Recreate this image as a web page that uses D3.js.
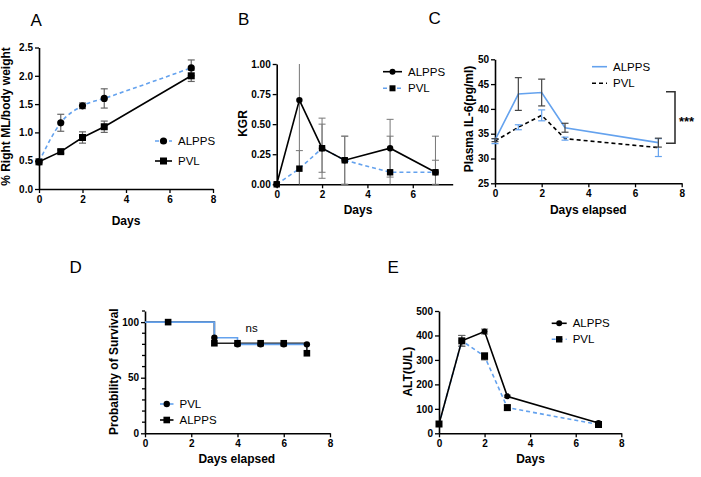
<!DOCTYPE html>
<html><head><meta charset="utf-8">
<script src="https://cdn.jsdelivr.net/npm/d3@7"></script>
<style>body{margin:0;background:#fff}svg{display:block}</style>
</head><body>
<svg id="c" width="701" height="477"></svg>
<script>
// ---------- DATA ----------
const seriesNames = ["ALPPS", "PVL"];
// A
const daysA = [0, 1, 2, 3, 7];
const alppsA = [0.48, 1.17, 1.47, 1.60, 2.14];
const alppsAErr = [0, 0.15, 0.05, 0.17, 0.14];
const pvlA = [0.48, 0.66, 0.91, 1.10, 2.00];
const pvlAErr = [0, 0.03, 0.10, 0.10, 0.10];
const yTicksA = [0, 0.5, 1.0, 1.5, 2.0, 2.5];
// B
const daysB = [0, 1, 2, 3, 5, 7];
const alppsB = [0, 0.70, 0.30, 0.20, 0.30, 0.10];
const alppsBErr = [0, 0.75, 0.25, 0.20, 0.24, 0.30];
const pvlB = [0, 0.13, 0.30, 0.20, 0.10, 0.10];
const pvlBErr = [0, 0.15, 0.20, 0.20, 0.30, 0.10];
const yTicksB = [0, 0.25, 0.5, 0.75, 1.0];
// C
const daysC = [0, 1, 2, 3, 7];
const alppsC = [33.7, 43.0, 43.3, 36.2, 33.2];
const alppsCErr = [0.3, 3.3, 2.7, 0.9, 0.9];
const pvlC = [33.5, 36.3, 38.7, 34.0, 32.2];
const pvlCErr = [0.5, 0.5, 1.1, 0.3, 1.8];
const yTicksC = [25, 30, 35, 40, 45, 50];
// D (Kaplan-Meier)
const kmPvlT = [0, 3, 4, 7];
const kmPvlS = [100, 86, 80, 80];
const kmPvlMarkT = [3, 4, 5, 6, 7];
const kmPvlMarkS = [86, 80, 80, 80, 80];
const kmAlppsT = [0, 3, 7, 7];
const kmAlppsS = [100, 81, 81, 72];
const kmAlppsMarkT = [1, 3, 4, 5, 6, 7];
const kmAlppsMarkS = [100, 81, 81, 81, 81, 72];
const yTicksD = [0, 50, 100];
// E
const daysE = [0, 1, 2, 3, 7];
const alppsE = [38, 378, 416, 151, 42];
const alppsEErr = [0, 22, 10, 5, 5];
const pvlE = [38, 378, 315, 105, 36];
const pvlEErr = [0, 22, 15, 10, 5];
const yTicksE = [0, 100, 200, 300, 400, 500];
const xTicks8 = [0, 2, 4, 6, 8];

// ---------- DRAWING ----------
const blue = "#64a2ee";
const svg = d3.select("#c");
const FONT = "Liberation Sans, Arial, sans-serif";

function axes(xs, ys, xt, yt, fmt, minorY) {
  const g = svg.append("g");
  const ax = g.append("g").attr("transform", `translate(0,${ys.range()[0]})`)
    .call(d3.axisBottom(xs).tickValues(xt).tickSize(4).tickSizeOuter(0).tickPadding(3).tickFormat(d3.format("d")));
  const ay = g.append("g").attr("transform", `translate(${xs.range()[0]},0)`)
    .call(d3.axisLeft(ys).tickValues(yt).tickSize(4).tickSizeOuter(0).tickPadding(2).tickFormat(fmt));
  if (minorY) {
    ay.selectAll("line.minor").data(minorY).enter().append("line")
      .attr("x1", 0).attr("x2", -3).attr("y1", d => ys(d)).attr("y2", d => ys(d))
      .attr("stroke", "#000").attr("stroke-width", 1.3);
  }
  [ax, ay].forEach(a => {
    a.select(".domain").attr("stroke", "#000").attr("stroke-width", 1.6);
    a.selectAll(".tick line").attr("stroke", "#000").attr("stroke-width", 1.3);
    a.selectAll(".tick text").attr("fill", "#000").style("font-family", FONT)
      .style("font-size", "10px").style("font-weight", "bold");
  });
}

function title(x, y, t) {
  svg.append("text").attr("x", x).attr("y", y).text(t)
    .style("font-family", FONT).style("font-size", "17px").attr("fill", "#000");
}
function xlabel(x, y, t) {
  svg.append("text").attr("x", x).attr("y", y).attr("text-anchor", "middle").text(t)
    .style("font-family", FONT).style("font-size", "12px").style("font-weight", "bold");
}
function ylabel(x, y, t) {
  svg.append("text").attr("transform", `translate(${x},${y}) rotate(-90)`).attr("text-anchor", "middle").text(t)
    .style("font-family", FONT).style("font-size", "12px").style("font-weight", "bold");
}
function marker(g, type, x, y, s, fill) {
  if (type === "circle") g.append("circle").attr("cx", x).attr("cy", y).attr("r", s).attr("fill", fill || "#000");
  else if (type === "square") g.append("rect").attr("x", x - s).attr("y", y - s).attr("width", 2 * s).attr("height", 2 * s).attr("fill", fill || "#000");
}
function errbars(xs, ys, xv, yv, ev, color, w) {
  const [d0, d1] = ys.domain();
  const g = svg.append("g").attr("stroke", color).attr("stroke-width", w || 1.1);
  xv.forEach((xd, i) => {
    const e = ev[i]; if (!e) return;
    const hiV = yv[i] + e, loV = yv[i] - e;
    const hi = Math.min(hiV, d1), lo = Math.max(loV, d0);
    const x = xs(xd);
    g.append("line").attr("x1", x).attr("x2", x).attr("y1", ys(lo)).attr("y2", ys(hi));
    if (hiV <= d1) g.append("line").attr("x1", x - 3.5).attr("x2", x + 3.5).attr("y1", ys(hi)).attr("y2", ys(hi));
    if (loV >= d0) g.append("line").attr("x1", x - 3.5).attr("x2", x + 3.5).attr("y1", ys(lo)).attr("y2", ys(lo));
  });
}
function series(xs, ys, xv, yv, opt) {
  const line = d3.line().x((d, i) => xs(xv[i])).y(d => ys(d)).curve(opt.curve || d3.curveLinear);
  svg.append("path").attr("d", line(yv)).attr("fill", "none").attr("stroke", opt.color)
    .attr("stroke-width", opt.width || 1.6).attr("stroke-dasharray", opt.dash || null);
  if (opt.marker) {
    const g = svg.append("g");
    xv.forEach((xd, i) => marker(g, opt.marker, xs(xd), ys(yv[i]), opt.size, "#000"));
  }
}
function legend(x0, len, y, label, opt) {
  svg.append("line").attr("x1", x0).attr("x2", x0 + len).attr("y1", y).attr("y2", y)
    .attr("stroke", opt.color).attr("stroke-width", 1.6).attr("stroke-dasharray", opt.dash || null);
  if (opt.marker) marker(svg, opt.marker, x0 + len / 2, y, opt.size, "#000");
  svg.append("text").attr("x", x0 + len + 6).attr("y", y).attr("dy", "0.36em").text(label)
    .style("font-family", FONT).style("font-size", "11.5px");
}

// ---- Panel A ----
{
  const xs = d3.scaleLinear().domain([0, 8]).range([39, 213]);
  const ys = d3.scaleLinear().domain([0, 2.5]).range([189, 47.5]);
  axes(xs, ys, xTicks8, yTicksA, d3.format(".1f"));
  errbars(xs, ys, daysA, alppsA, alppsAErr, "#666", 1.2);
  errbars(xs, ys, daysA, pvlA, pvlAErr, "#666", 1.2);
  series(xs, ys, daysA, pvlA, {color: "#000", marker: "square", size: 3.5});
  series(xs, ys, daysA, alppsA, {color: blue, dash: "4,3", marker: "circle", size: 3.6, curve: d3.curveMonotoneX});
  legend(155, 17, 141, seriesNames[0], {color: blue, dash: "4,3", marker: "circle", size: 3.6});
  legend(155, 17, 161, seriesNames[1], {color: "#000", marker: "square", size: 3.5});
  title(30.5, 26, "A");
  xlabel(126, 225, "Days");
  ylabel(9.5, 116.5, "% Right ML/body weight");
}
// ---- Panel B ----
{
  const xs = d3.scaleLinear().domain([0, 7.76]).range([276.7, 452.7]);
  const ys = d3.scaleLinear().domain([0, 1]).range([184.3, 64]);
  axes(xs, ys, [0, 2, 4, 6], yTicksB, d3.format(".2f"));
  errbars(xs, ys, daysB, alppsB, alppsBErr, "#777", 1);
  errbars(xs, ys, daysB, pvlB, pvlBErr, "#777", 1);
  series(xs, ys, daysB, pvlB, {color: blue, dash: "4,3", marker: "square", size: 3.2});
  series(xs, ys, daysB, alppsB, {color: "#000", marker: "circle", size: 3.2});
  legend(383, 19, 71.7, seriesNames[0], {color: "#000", marker: "circle", size: 3});
  legend(383, 19, 88.3, seriesNames[1], {color: blue, dash: "4,3", marker: "square", size: 3});
  title(238, 25, "B");
  xlabel(358, 214, "Days");
  ylabel(247, 123.5, "KGR");
}
// ---- Panel C ----
{
  const xs = d3.scaleLinear().domain([0, 8]).range([495, 681.7]);
  const ys = d3.scaleLinear().domain([25, 50]).range([183.3, 59.3]);
  axes(xs, ys, xTicks8, yTicksC, d3.format("d"));
  series(xs, ys, daysC, pvlC, {color: "#000", dash: "4,3"});
  series(xs, ys, daysC, alppsC, {color: blue});
  errbars(xs, ys, daysC, pvlC, pvlCErr, blue, 1.2);
  errbars(xs, ys, daysC, alppsC, alppsCErr, "#444", 1.2);
  legend(592, 15, 66.7, seriesNames[0], {color: blue});
  legend(592, 15, 83.3, seriesNames[1], {color: "#000", dash: "4,3"});
  // significance bracket
  svg.append("path").attr("d", "M666,91.7H675V143.3H666").attr("fill", "none")
    .attr("stroke", "#333").attr("stroke-width", 1.6);
  svg.append("text").attr("x", 679).attr("y", 119.5).attr("dy", "0.5em").text("***")
    .style("font-family", FONT).style("font-size", "13px").style("font-weight", "bold");
  title(428.5, 23.5, "C");
  xlabel(588.3, 214, "Days elapsed");
  ylabel(473, 119, "Plasma IL-6(pg/ml)");
}
// ---- Panel D ----
{
  const xs = d3.scaleLinear().domain([0, 8]).range([145, 330]);
  const ys = d3.scaleLinear().domain([0, 110]).range([433.3, 311]);
  axes(xs, ys, xTicks8, yTicksD, d3.format("d"), d3.range(10, 111, 10).filter(v => v % 50 !== 0));
  const step = (T, S) => d3.line().x((d, i) => xs(T[i])).y(d => ys(d)).curve(d3.curveStepAfter)(S);
  svg.append("path").attr("d", step(kmAlppsT, kmAlppsS)).attr("fill", "none").attr("stroke", "#222").attr("stroke-width", 1.6);
  svg.append("path").attr("d", step(kmPvlT, kmPvlS)).attr("fill", "none").attr("stroke", blue).attr("stroke-width", 1.6);
  const g = svg.append("g");
  kmAlppsMarkT.forEach((t, i) => marker(g, "square", xs(t), ys(kmAlppsMarkS[i]), 3.3));
  kmPvlMarkT.forEach((t, i) => marker(g, "circle", xs(t), ys(kmPvlMarkS[i]), 3.2));
  legend(160, 13.5, 404, seriesNames[1], {color: blue, marker: "circle", size: 3.2});
  legend(160, 13.5, 420, seriesNames[0], {color: "#000", marker: "square", size: 3.3});
  svg.append("text").attr("x", 251.7).attr("y", 328).attr("dy", "0.36em").attr("text-anchor", "middle").text("ns")
    .style("font-family", FONT).style("font-size", "11.5px");
  title(69.5, 273, "D");
  xlabel(236.8, 463, "Days elapsed");
  ylabel(118, 371.7, "Probability of Survival");
}
// ---- Panel E ----
{
  const xs = d3.scaleLinear().domain([0, 8]).range([439, 621.3]);
  const ys = d3.scaleLinear().domain([0, 500]).range([433.3, 311]);
  axes(xs, ys, xTicks8, yTicksE, d3.format("d"));
  errbars(xs, ys, daysE, alppsE, alppsEErr, "#666", 1.1);
  errbars(xs, ys, daysE, pvlE, pvlEErr, "#666", 1.1);
  series(xs, ys, daysE, pvlE, {color: blue, dash: "4,3", marker: "square", size: 3.5});
  series(xs, ys, daysE, alppsE, {color: "#000", marker: "circle", size: 3});
  legend(551.7, 15, 323.3, seriesNames[0], {color: "#000", marker: "circle", size: 3});
  legend(551.7, 15, 339.3, seriesNames[1], {color: blue, dash: "4,3", marker: "square", size: 3.2});
  title(387.5, 273.3, "E");
  xlabel(530.5, 463, "Days");
  ylabel(411.5, 371.7, "ALT(U/L)");
}
</script>
</body></html>
